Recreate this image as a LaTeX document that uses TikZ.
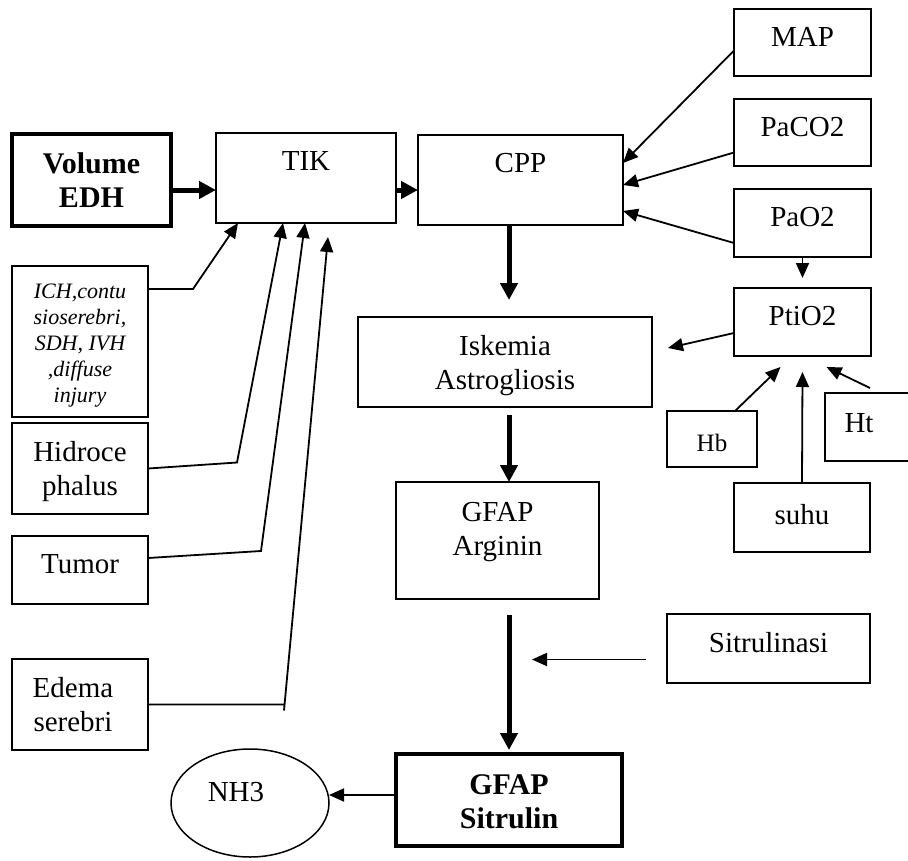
\documentclass[tikz,border=0pt]{standalone}
\usepackage{fontspec}
\setmainfont{Liberation Serif}
\usepackage{tikz}
\usetikzlibrary{arrows.meta,shapes.geometric,calc}

\begin{document}
\begin{tikzpicture}[x=1pt, y=-1pt,
box/.style={draw, line width=2pt, anchor=north west, inner sep=0pt, outer sep=0pt},
bold box/.style={box, line width=3.5pt},
txt/.style={anchor=north, align=center, inner sep=0pt, yshift=-18pt,
font=\fontsize{29}{34}\selectfont},
arr/.style={-{Triangle[length=15pt,width=13pt]}, line width=1.8pt},
thk/.style={-{Triangle[length=17pt,width=17pt]}, line width=5pt}]
\useasboundingbox (0,0) rectangle (908,860);

% left column
\node [bold box, minimum width=159pt, minimum height=92pt,
  label={[txt, font=\fontsize{30}{34}\selectfont\bfseries]north:{Volume\\EDH}}] (vol) at (12,134) {};
\node [box, minimum width=136pt, minimum height=151pt,
  label={[txt, font=\fontsize{22}{26}\selectfont\itshape]north:{ICH,contu\\sioserebri,\\SDH, IVH\\,diffuse\\injury}}] (ich) at (12,266) {};
\node [box, minimum width=136pt, minimum height=91pt,
  label={[txt]north:{Hidroce\\phalus}}] (hid) at (12,423) {};
\node [box, minimum width=136pt, minimum height=68pt,
  label={[txt]north:Tumor}] (tum) at (12,536) {};
\node [box, minimum width=136pt, minimum height=91pt,
  label={[txt, xshift=-7pt]north:{Edema\\serebri}}] (ede) at (12,659) {};
\node [draw, line width=1.5pt, outer sep=0pt, ellipse, minimum width=158pt, minimum height=108pt,
  label={[txt, xshift=-14pt, yshift=-15pt]north:NH3}] (nh3) at (250,803) {};

% middle column
\node [box, minimum width=180pt, minimum height=90pt,
  label={[txt]north:TIK}] (tik) at (216,133) {};
\node [box, minimum width=205pt, minimum height=90pt,
  label={[txt]north:CPP}] (cpp) at (418,135) {};
\node [box, minimum width=294pt, minimum height=90pt,
  label={[txt]north:{Iskemia\\Astrogliosis}}] (isk) at (358,317) {};
\node [box, minimum width=203pt, minimum height=117pt,
  label={[txt, yshift=-2pt]north:{GFAP\\Arginin}}] (gfa) at (396,482) {};
\node [bold box, minimum width=226pt, minimum height=92pt,
  label={[txt, yshift=-2pt, font=\fontsize{30}{34}\selectfont\bfseries]north:{GFAP\\Sitrulin}}] (gfs) at (396,754) {};

% right column
\node [box, minimum width=137pt, minimum height=67pt,
  label={[txt]north:MAP}] (map) at (734,9) {};
\node [box, minimum width=137pt, minimum height=67pt,
  label={[txt]north:PaCO2}] (paco) at (734,99) {};
\node [box, minimum width=137pt, minimum height=68pt,
  label={[txt]north:PaO2}] (pao) at (734,189) {};
\node [box, minimum width=137pt, minimum height=68pt,
  label={[txt]north:PtiO2}] (ptio) at (734,288) {};
\node [box, minimum width=90pt, minimum height=56pt,
  label={[txt, yshift=-5pt, font=\fontsize{25}{30}\selectfont]north:Hb}] (hb) at (667,411) {};
\node [box, minimum width=100pt, minimum height=68pt,
  label={[txt, xshift=34pt, yshift=-2pt]north west:Ht}] (ht) at (825,393) {};
\node [box, minimum width=136pt, minimum height=69pt,
  label={[txt, yshift=-3pt]north:suhu}] (suhu) at (734,483) {};
\node [box, minimum width=203pt, minimum height=69pt,
  label={[txt]north:Sitrulinasi}] (sit) at (667,614) {};

\coordinate (col) at (509,0);

% into TIK and CPP
\draw[thk] ($(vol.east)+(0,10)$) -- ($(tik.west)+(0,12)$);
\draw[thk] ($(tik.east)+(0,12)$) -- ($(cpp.west)+(0,10)$);
\draw[arr] ($(ich.north east)+(0,23)$) -- ++(45,0) -- ($(tik.south)+(-68,0)$);
\draw[arr] (hid.east) -- ++(89,-6) -- ($(tik.south)+(-23,0)$);
\draw[arr] ($(tum.east)+(0,-12)$) -- ++(113,-7) -- ($(tik.south)+(-1,0)$);
\draw[arr] (ede.east) -- ++(136,0) ++(0,6) -- ($(tik.south)+(22,14)$);
\draw[arr] ($(map.west)+(0,8)$) -- ($(cpp.east)+(0,-17)$);
\draw[arr] ($(paco.west)+(0,20)$) -- ($(cpp.east)+(0,5)$);
\draw[arr] ($(pao.west)+(0,20)$) -- ($(cpp.east)+(0,31)$);

% PtiO2
\draw[arr] (pao.south) -- ($(ptio.north)+(0,-10)$);
\draw[arr] ($(ptio.west)+(0,11)$) -- ($(isk.east)+(16,-14)$);
\draw[arr] ($(hb.north)+(23,0)$) -- ($(ptio.south)+(-22,11)$);
\draw[arr] (suhu.north) -- ($(ptio.south)+(0,16)$);
\draw[arr] ($(ht.north west)+(45,-5)$) -- ($(ptio.south)+(24,11)$);

% main chain
\draw[thk] (cpp.south -| col) -- ($(isk.north -| col)+(0,-17)$);
\draw[thk] ($(isk.south -| col)+(0,8)$) -- (gfa.north -| col);
\draw[thk] ($(gfa.south -| col)+(0,16)$) -- ($(gfs.north -| col)+(0,-4)$);
\draw[arr] ($(sit.west)+(-21,11)$) -- ($(sit.west -| col)+(23,11)$);
\draw[arr] ($(gfs.west)+(0,-5)$) -- ($(nh3.east)+(0,-8)$);
\end{tikzpicture}
\end{document}
